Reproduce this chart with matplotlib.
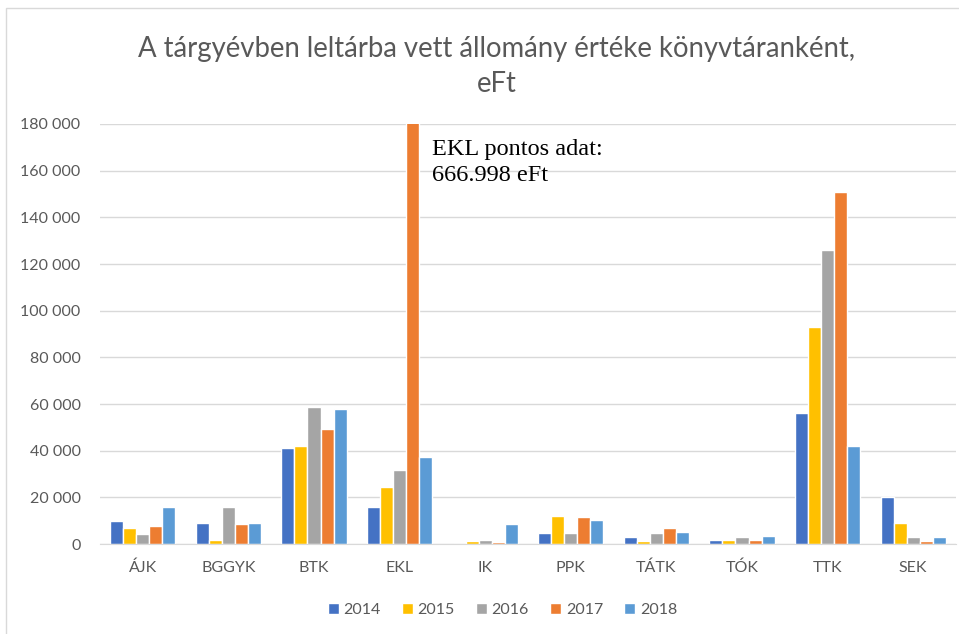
import matplotlib
matplotlib.use("Agg")
import matplotlib.pyplot as plt
import numpy as np
from matplotlib.patches import Rectangle

categories = ["ÁJK", "BGGYK", "BTK", "EKL", "IK", "PPK", "TÁTK", "TÓK", "TTK", "SEK"]
years = ["2014", "2015", "2016", "2017", "2018"]
v2014 = [10000, 9100, 41000, 15700, 0, 4700, 3100, 1700, 56000, 20000]
v2015 = [6800, 1800, 42100, 24500, 1100, 12000, 1300, 1700, 92900, 9100]
v2016 = [4100, 16000, 58800, 31700, 1800, 4700, 4700, 2800, 125900, 2900]
v2017 = [7600, 8600, 49300, 666998, 700, 11400, 6900, 1700, 150800, 1300]
v2018 = [16000, 9100, 57700, 37100, 8600, 10100, 5100, 3400, 42200, 2900]
colors = ["#4472C4", "#FFC000", "#A5A5A5", "#ED7D31", "#5B9BD5"]
y_ticks = list(range(0, 180001, 20000))

plt.rcParams["font.family"] = ["Lato", "DejaVu Sans"]
GRAY = "#595959"

fig = plt.figure(figsize=(9.59, 6.34), dpi=100)
ax = fig.add_axes([100 / 959, 90 / 634, 856 / 959, 420 / 634])

x = np.arange(len(categories))
pitch = 0.152
series = [v2014, v2015, v2016, v2017, v2018]
for i, (vals, col, yr) in enumerate(zip(series, colors, years)):
    ax.bar(x + (i - 2) * pitch, vals, width=pitch, color=col, edgecolor="white",
           linewidth=1.0, label=yr, zorder=2)

ax.set_xlim(-0.5, len(categories) - 0.5)
ax.set_ylim(0, 180000)
ax.set_yticks(y_ticks)
ax.set_yticklabels([f"{v:,}".replace(",", " ") for v in y_ticks])
ax.set_xticks(x)
ax.set_xticklabels(categories)
ax.tick_params(axis="both", length=0, colors=GRAY, labelsize=11.5)
ax.tick_params(axis="x", pad=12)
ax.tick_params(axis="y", pad=14)
ax.grid(axis="y", color="#D9D9D9", linewidth=1, zorder=0)
for side in ["top", "right", "left"]:
    ax.spines[side].set_visible(False)
ax.spines["bottom"].set_color("#D9D9D9")

# the 2017 EKL bar is clipped at the top, so the real value is written next to it
ax.text(3.38, 173500, "EKL pontos adat:\n666.998 eFt", family="Liberation Serif",
        fontsize=17.5, color="black", va="top", ha="left", linespacing=1.28)

fig.text(0.518, 0.895, "A tárgyévben leltárba vett állomány értéke könyvtáranként,\neFt",
         ha="center", va="center", fontsize=19.8, color=GRAY, linespacing=1.4)

ax.legend(loc="center", bbox_to_anchor=(0.47, -0.157), ncol=5, frameon=False,
          fontsize=11.5, labelcolor=GRAY, handlelength=0.7, handleheight=0.7,
          handletextpad=0.3, columnspacing=1.3)

fig.patches.append(Rectangle((6 / 959, -0.1), 1.2, (634 - 8) / 634 + 0.1,
                             transform=fig.transFigure, fill=False,
                             edgecolor="#D9D9D9", linewidth=1))

fig.savefig("out.png", dpi=100)
